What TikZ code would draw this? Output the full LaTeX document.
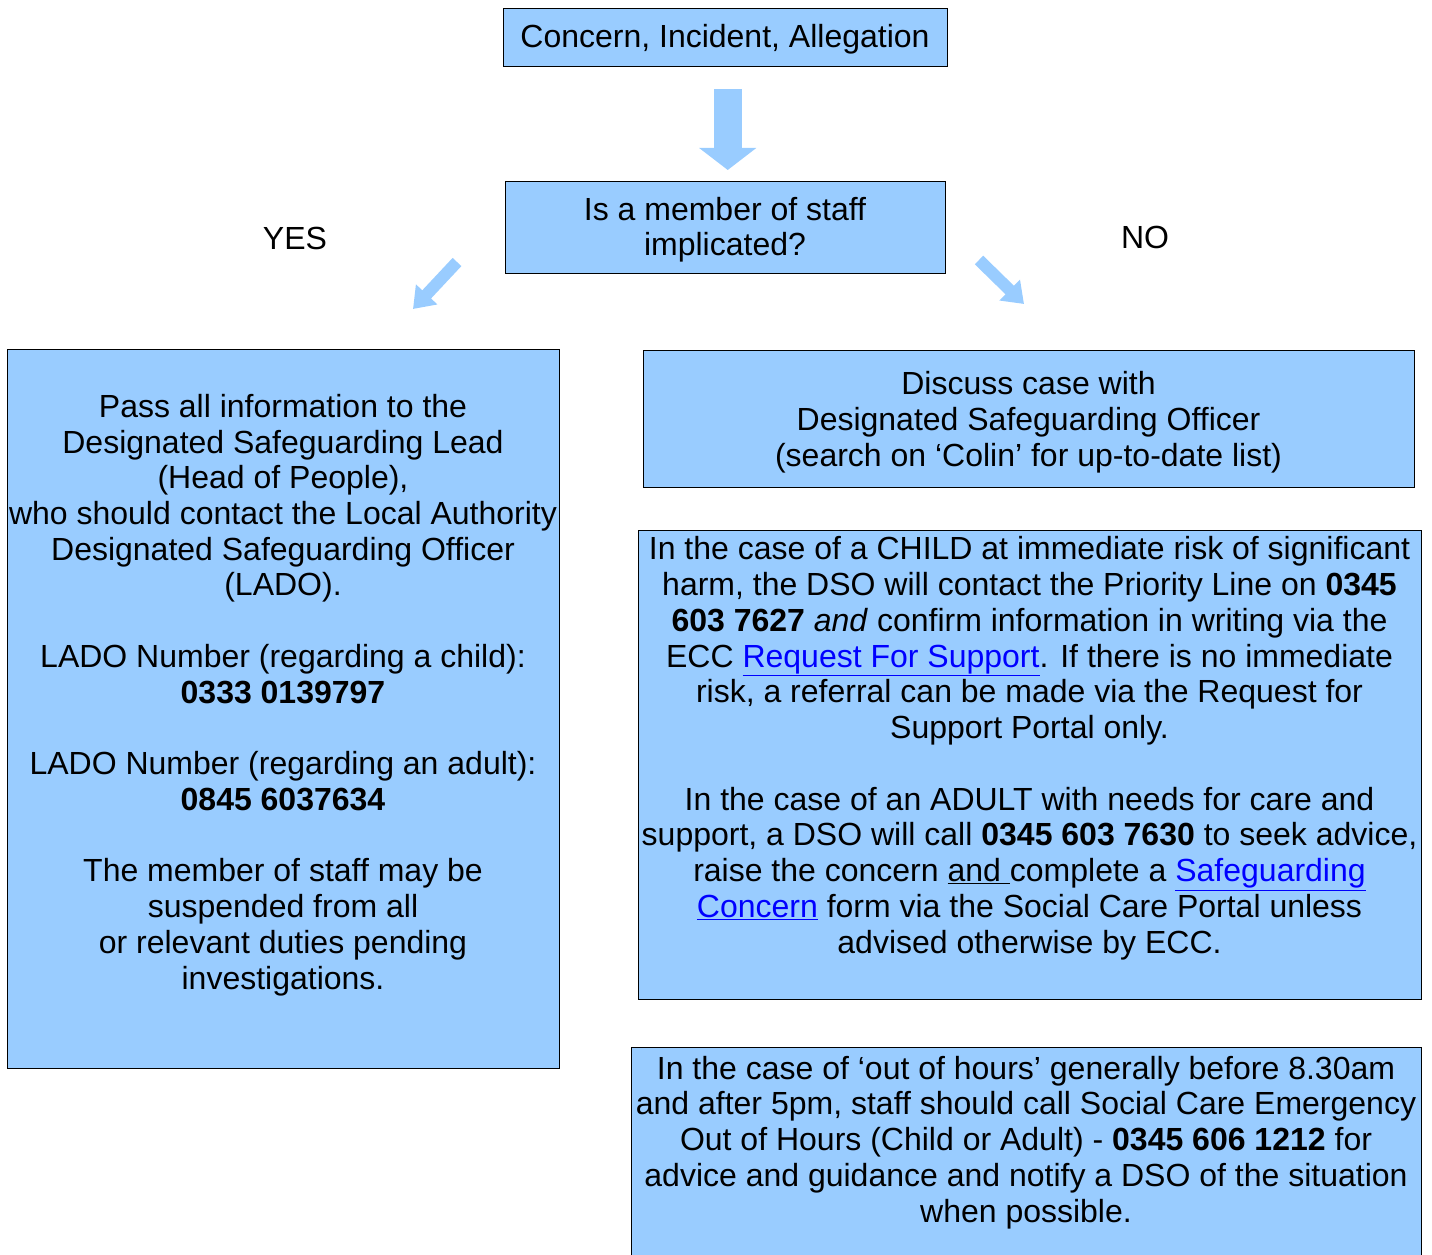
\documentclass[tikz,border=0pt]{standalone}
\usepackage{fontspec}
\setmainfont{Liberation Sans}
\usetikzlibrary{arrows.meta,calc}
\definecolor{boxblue}{HTML}{99CCFF}
\definecolor{linkblue}{HTML}{0000FF}
\newcommand\bodyfont{\fontsize{24}{26.8}\selectfont}
\newcommand\lnk[1]{\textcolor{linkblue}{\underline{#1}}}
\tikzset{
  boxshape/.style={draw=black, line width=1.1pt, fill=boxblue, inner sep=0pt},
  boxtext/.style={align=center, inner sep=0pt, font=\bodyfont, anchor=base},
  fatarrow/.style={draw=boxblue, line width=21pt, -{Triangle[width=42pt,length=16.5pt]}},
  slimarrow/.style={draw=boxblue, line width=9pt, -{Triangle[width=21pt,length=15pt]}},
  plain/.style={inner sep=0pt, font=\bodyfont}
}
\begin{document}
\begin{tikzpicture}[x=0.75pt, y=-0.75pt]
\useasboundingbox (0,0) rectangle (1432,1255);
% boxes
\node[boxshape, minimum width=444*0.75pt, minimum height=58*0.75pt, anchor=north west] (top) at (503,8) {};
\node[boxtext] (toptxt) at (725,48) {Concern, Incident, Allegation};

\node[boxshape, minimum width=440*0.75pt, minimum height=92*0.75pt, anchor=north west] (q) at (505,181) {};
\node[boxtext] (qtxt) at (725,256) {Is a member of staff\\implicated?};

\node[plain] (yes) at (295,238) {YES};
\node[plain] (no) at (1145,237) {NO};

\node[boxshape, minimum width=552*0.75pt, minimum height=719*0.75pt, anchor=north west] (left) at (7,349) {};
\node[boxtext] (lefttxt) at (283,989) {Pass all information to the\\
Designated Safeguarding Lead\\
(Head of People),\\
who should contact the Local Authority\\
Designated Safeguarding Officer\\
(LADO).\\[26.8pt]
LADO Number (regarding a child):\\
\textbf{0333 0139797}\\[26.8pt]
LADO Number (regarding an adult):\\
\textbf{0845 6037634}\\[26.8pt]
The member of staff may be\\
suspended from all\\
or relevant duties pending\\
investigations.};

\node[boxshape, minimum width=771*0.75pt, minimum height=137*0.75pt, anchor=north west] (r1) at (643,350) {};
\node[boxtext] (r1txt) at (1028.5,466) {Discuss case with\\
Designated Safeguarding Officer\\
(search on ‘Colin’ for up-to-date list)};

\node[boxshape, minimum width=783*0.75pt, minimum height=469*0.75pt, anchor=north west] (r2) at (638,530) {};
\node[boxtext] (r2txt) at (1029.5,953) {In the case of a CHILD at immediate risk of significant\\
harm, the DSO will contact the Priority Line on \textbf{0345}\\
\textbf{603 7627} \textit{and} confirm information in writing via the\\
ECC \lnk{Request For Support}. If there is no immediate\\
risk, a referral can be made via the Request for\\
Support Portal only.\\[26.8pt]
In the case of an ADULT with needs for care and\\
support, a DSO will call \textbf{0345 603 7630} to seek advice,\\
raise the concern \underline{and\ }complete a \lnk{Safeguarding}\\
\lnk{Concern} form via the Social Care Portal unless\\
advised otherwise by ECC.};

\node[boxshape, minimum width=790*0.75pt, minimum height=220*0.75pt, anchor=north west] (r3) at (631,1047) {};
\node[boxtext] (r3txt) at (1026,1222) {In the case of ‘out of hours’ generally before 8.30am\\
and after 5pm, staff should call Social Care Emergency\\
Out of Hours (Child or Adult) - \textbf{0345 606 1212} for\\
advice and guidance and notify a DSO of the situation\\
when possible.};

% arrows
\draw[fatarrow] ($(top.south)+(2,22)$) -- ($(q.north)+(2,-11)$);
\coordinate (yesS) at (457,262);
\coordinate (yesE) at (413,309);
\coordinate (noS) at (979,260);
\coordinate (noE) at (1024,304);
\draw[slimarrow] (yesS) -- (yesE);
\draw[slimarrow] (noS) -- (noE);
\end{tikzpicture}
\end{document}
